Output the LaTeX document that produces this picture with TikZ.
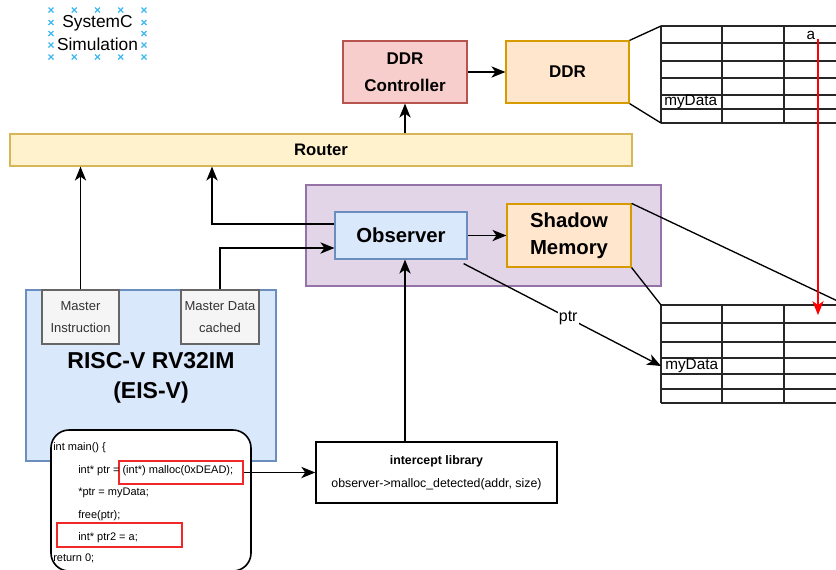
\documentclass[tikz,border=0pt]{standalone}
\usepackage{fontspec}
\setmainfont{Liberation Sans}
\usepackage{xcolor}
\usepackage{tikz}
\usetikzlibrary{arrows.meta,positioning,calc}
\definecolor{ctrlfill}{HTML}{F8CECC}
\definecolor{ctrlline}{HTML}{B85450}
\definecolor{memfill}{HTML}{FFE6CC}
\definecolor{memline}{HTML}{D79B00}
\definecolor{busfill}{HTML}{FFF2CC}
\definecolor{busline}{HTML}{D6B656}
\definecolor{grpfill}{HTML}{E1D5E7}
\definecolor{grpline}{HTML}{9673A6}
\definecolor{cpufill}{HTML}{DAE8FC}
\definecolor{cpuline}{HTML}{6C8EBF}
\definecolor{portfill}{HTML}{F5F5F5}
\definecolor{portline}{HTML}{666666}
\definecolor{porttext}{HTML}{333333}
\definecolor{selblue}{HTML}{3FB8F0}
\definecolor{hlred}{HTML}{F02828}
% one drawing unit = one screen pixel
\newcommand{\px}{0.75pt}
\newcommand{\titlefont}[2]{\fontsize{#1}{#2}\selectfont\bfseries}
\tikzset{
  block/.style={draw, line width=0.9pt, inner sep=0pt, align=center},
  port/.style={block, fill=portfill, draw=portline, text=porttext, line width=1.1pt,
    font=\fontsize{9.75pt}{16.5pt}\selectfont},
  hlbox/.style={draw=hlred, line width=1.1pt, inner sep=0pt},
  wire/.style={line width=1pt},
  grid/.style={line width=1.3pt, black!85},
  codeline/.style={anchor=base west, inner sep=0pt, font=\fontsize{8.25pt}{10pt}\selectfont},
  selcross/.style={selblue, line width=0.9pt},
}

\begin{document}
\begin{tikzpicture}[x=\px,y=-\px,>={Stealth[length=10.5pt,width=8.5pt,inset=3pt]}]
  \useasboundingbox (0,0) rectangle (836,569);

  % simulation label with selection handles
  \node[align=center, inner sep=0pt, font=\fontsize{13pt}{17.25pt}\selectfont] (simlabel)
    at (97.5,33.5) {SystemC\\Simulation};
  \foreach \x in {51,74.25,97.5,120.75,144}
    \foreach \y in {10,57}
      \draw[selcross] (\x,\y) +(-2.5,-2.5) -- +(2.5,2.5) +(-2.5,2.5) -- +(2.5,-2.5);
  \foreach \x in {51,144}
    \foreach \y in {22.5,33.5,45}
      \draw[selcross] (\x,\y) +(-2.5,-2.5) -- +(2.5,2.5) +(-2.5,2.5) -- +(2.5,-2.5);

  % --- memory side ---
  \node[block, fill=ctrlfill, draw=ctrlline, minimum width=124*\px, minimum height=62*\px,
    font=\titlefont{12.75pt}{20pt}] (ddrctrl) at (405,72) {DDR\\Controller};
  \node[block, fill=memfill, draw=memline, minimum width=123*\px, minimum height=62*\px,
    font=\titlefont{12.75pt}{20pt}] (ddr) at (567.5,72) {DDR};
  \node[block, fill=busfill, draw=busline, minimum width=622*\px, minimum height=32*\px,
    font=\titlefont{12.5pt}{15pt}] (router) at (321,150) {Router};

  % ddr contents
  \foreach \y in {26,43,61,78,95,109,123}
    \draw[grid] (661,\y) -- (850,\y);
  \foreach \x in {661,722,784,846}
    \draw[grid] (\x,26) -- (\x,123);
  \coordinate (up-nw) at (661,26);
  \coordinate (up-sw) at (661,123);
  \node[inner sep=0pt, font=\fontsize{11.5pt}{13pt}\selectfont] (cell-a) at (811,35) {a};
  \node[anchor=west, inner sep=0pt, font=\fontsize{11.5pt}{13pt}\selectfont] (cell-up) at (664,101.5) {myData};

  % --- observer group ---
  \node[block, fill=grpfill, draw=grpline, minimum width=355*\px, minimum height=101*\px]
    (obsgroup) at (483.5,235.5) {};
  \node[block, fill=cpufill, draw=cpuline, minimum width=132*\px, minimum height=47*\px,
    font=\titlefont{15.25pt}{20pt}] (observer) at (401,235.5) {Observer};
  \node[block, fill=memfill, draw=memline, minimum width=124*\px, minimum height=63*\px,
    font=\titlefont{15.25pt}{20pt}] (shadow) at (569,235.5) {Shadow\\Memory};

  % shadow contents
  \foreach \y in {305,323,342,358,374,389,403}
    \draw[grid] (661,\y) -- (850,\y);
  \foreach \x in {661,722,784,846}
    \draw[grid] (\x,305) -- (\x,403);
  \coordinate (lo-nw) at (661,305);
  \coordinate (lo-ne) at (846,305);
  \coordinate (lo-data) at (661,366);
  \node[anchor=west, inner sep=0pt, font=\fontsize{11.5pt}{13pt}\selectfont] (cell-lo) at (665,366) {myData};

  % --- core ---
  \node[block, fill=cpufill, draw=cpuline, minimum width=250*\px, minimum height=171*\px]
    (core) at (151,375.5) {};
  \node[align=center, inner sep=0pt, font=\titlefont{17.25pt}{22.5pt}] (corelabel)
    at (151,378) {RISC-V RV32IM\\(EIS-V)};
  \node[port, minimum width=77*\px, minimum height=54*\px] (minstr) at (80.5,317) {Master\\Instruction};
  \node[port, minimum width=78*\px, minimum height=54*\px] (mdata) at (220,317) {Master Data\\cached};

  % program
  \draw[line width=1.2pt, fill=white, rounded corners=18*\px] (51,430) rectangle (251,571);
  \node[hlbox, minimum width=124*\px, minimum height=23*\px] (hl-malloc) at (181,472.5) {};
  \node[hlbox, minimum width=125*\px, minimum height=24*\px] (hl-use) at (119.5,535) {};
  \node[codeline] (c1) at (53,450) {int main() \{};
  \node[codeline] (c2) at (78,473.5) {int* ptr = (int*) malloc(0xDEAD);};
  \node[codeline] (c3) at (78,495.5) {*ptr = myData;};
  \node[codeline] (c4) at (78,518.5) {free(ptr);};
  \node[codeline] (c5) at (78,540.5) {int* ptr2 = a;};
  \node[codeline] (c6) at (53,561.5) {return 0;};

  \node[block, fill=white, draw=black, line width=1.1pt, minimum width=241*\px, minimum height=61*\px,
    font=\fontsize{9.25pt}{17.25pt}\selectfont] (intercept) at (436.5,472.5)
    {\textbf{intercept library}\\observer->malloc\_detected(addr, size)};

  % --- connections ---
  \draw[->, wire] (ddrctrl.south |- router.north) -- (ddrctrl.south);
  \draw[->, wire] (ddrctrl.east) -- (ddr.west);
  \draw[wire] (ddr.north east) -- (up-nw);
  \draw[wire] (ddr.south east) -- (up-sw);
  \draw[->, wire] (observer.east) -- (shadow.west);
  \draw[wire] (shadow.north east) -- (lo-ne);
  \draw[wire] (shadow.south east) -- (lo-nw);
  \draw[->, wire] (minstr.north) -- (minstr.north |- router.south);
  \draw[->, wire] ($(observer.west)+(0,-11.5)$) -| (router.south -| 212,0);
  \draw[->, wire] (mdata.north) |- ($(observer.west)+(0,12.5)$);
  \draw[->, wire] (intercept.north -| 405,0) -- (observer.south -| 405,0);
  \draw[->, wire] (hl-malloc.east) -- (intercept.west);
  \draw[->, wire] ($(observer.south east)+(-4,4)$) -- (lo-data)
    node[pos=0.53, fill=white, inner sep=1pt, font=\fontsize{12pt}{14pt}\selectfont] {ptr};
  \draw[->, wire, red] (cell-a.south -| 818,0) -- ($(lo-nw -| 818,0)+(0,10)$);
\end{tikzpicture}
\end{document}
